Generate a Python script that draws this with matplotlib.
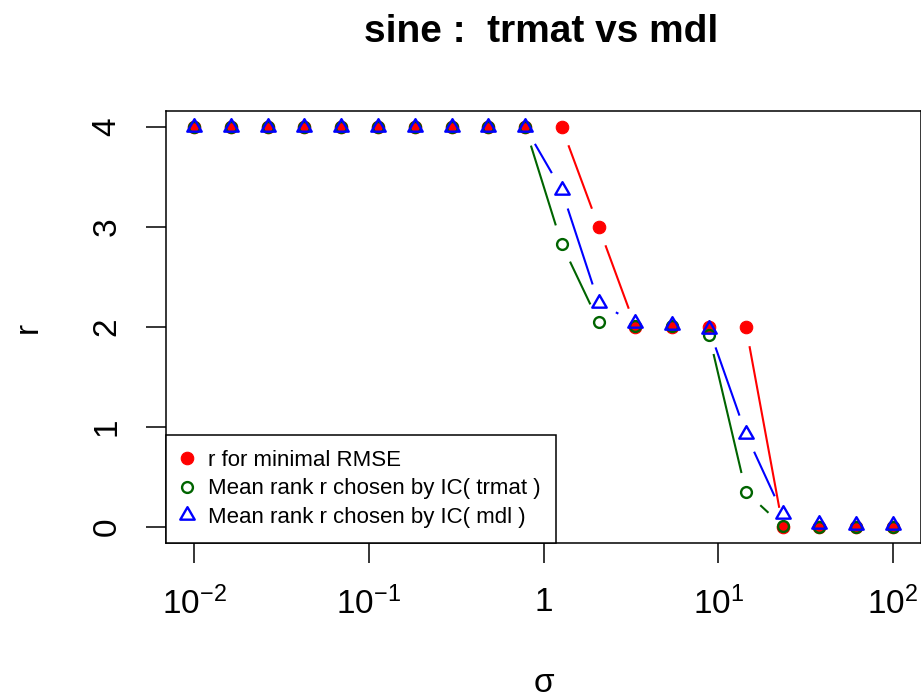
import numpy as np
import matplotlib
matplotlib.use("Agg")
import matplotlib.pyplot as plt
from matplotlib.lines import Line2D
from matplotlib.path import Path

plt.rcParams['font.family'] = ['Liberation Sans', 'DejaVu Sans']
plt.rcParams['mathtext.fontset'] = 'custom'
plt.rcParams['mathtext.rm'] = 'Liberation Sans'
plt.rcParams['mathtext.it'] = 'Liberation Sans:italic'
plt.rcParams['mathtext.bf'] = 'Liberation Sans:bold'

# ---- data ----
sigma = [0.01, 0.0162, 0.0264, 0.0428, 0.0695, 0.113, 0.183, 0.298, 0.483, 0.785,
         1.27, 2.07, 3.36, 5.46, 8.86, 14.4, 23.4, 37.9, 61.6, 100.0]
r_min_rmse = [4, 4, 4, 4, 4, 4, 4, 4, 4, 4,
              4, 3, 2, 2, 2, 2, 0, 0, 0, 0]
r_trmat = [4, 4, 4, 4, 4, 4, 4, 4, 4, 4,
           2.83, 2.05, 2.01, 2.01, 1.92, 0.35, 0.01, 0.0, 0.0, 0.0]
r_mdl = [4, 4, 4, 4, 4, 4, 4, 4, 4, 4,
         3.37, 2.24, 2.04, 2.02, 1.98, 0.93, 0.13, 0.03, 0.02, 0.02]
labels = ["r for minimal RMSE",
          "Mean rank r chosen by IC( trmat )",
          "Mean rank r chosen by IC( mdl )"]
xticks = [0.01, 0.1, 1, 10, 100]
xticklabels = [r"$10^{-2}$", r"$10^{-1}$", "1", r"$10^{1}$", r"$10^{2}$"]
yticks = [0, 1, 2, 3, 4]

RED, GREEN, BLUE = "#FF0000", "#006400", "#0000FF"

tri = Path([(0, 1), (-0.866, -0.5), (0.866, -0.5), (0, 1)],
           [Path.MOVETO, Path.LINETO, Path.LINETO, Path.CLOSEPOLY])

W, H, DPI = 921, 700, 100
fig = plt.figure(figsize=(W / DPI, H / DPI), dpi=DPI)
ax = fig.add_axes([166 / W, 1 - 543 / H, (921 - 166) / W, (543 - 111) / H])
ax.set_xscale('log')
ax.set_xlim(10 ** -2.16, 10 ** 2.16)
ax.set_ylim(-0.16, 4.16)

GAP = 19.5  # pixels, R type="b" gap


def b_lines(x, y, color):
    pts = ax.transData.transform(np.column_stack([x, y]))
    inv = ax.transData.inverted()
    for i in range(len(pts) - 1):
        p0, p1 = pts[i], pts[i + 1]
        d = p1 - p0
        L = np.hypot(*d)
        if L <= 2 * GAP:
            continue
        u = d / L
        a = inv.transform(p0 + u * GAP)
        b = inv.transform(p1 - u * GAP)
        ax.plot([a[0], b[0]], [a[1], b[1]], color=color, lw=1.5,
                solid_capstyle='butt', zorder=2)


b_lines(sigma, r_min_rmse, RED)
b_lines(sigma, r_trmat, GREEN)
b_lines(sigma, r_mdl, BLUE)

MS_R, MS_G, MS_B = 9.0, 7.8, 12.0
ax.plot(sigma, r_min_rmse, ls='none', marker='o', ms=MS_R, mfc=RED, mec=RED,
        mew=0.8, zorder=3)
ax.plot(sigma, r_trmat, ls='none', marker='o', ms=MS_G, mfc='none', mec=GREEN,
        mew=1.7, zorder=4)
ax.plot(sigma, r_mdl, ls='none', marker=tri, ms=MS_B, mfc='none', mec=BLUE,
        mew=1.7, zorder=5)

ax.minorticks_off()
ax.set_xticks(xticks)
ax.set_xticklabels(xticklabels)
ax.set_yticks(yticks)
ax.set_yticklabels([str(v) for v in yticks], rotation=90, va='center')
ax.tick_params(axis='both', length=14.4, width=1.1, labelsize=24, color='black')
ax.tick_params(axis='x', pad=17)
ax.tick_params(axis='y', pad=17)
for s in ax.spines.values():
    s.set_linewidth(1.1)

ax.set_xlabel("σ", fontsize=24)
ax.xaxis.set_label_coords(0.5, (543 - 692) / (543 - 111))
ax.xaxis.label.set_va('baseline')
ax.set_ylabel("r", fontsize=24)
ax.yaxis.set_label_coords((28 - 166) / (921 - 166), 0.5)
ax.yaxis.label.set_va('center')

fig.text(541.5 / W, 1 - 32 / H, "sine :  trmat vs mdl", ha='center', va='center',
         fontsize=28, fontweight='bold')

handles = [
    Line2D([], [], ls='none', marker='o', ms=MS_R, mfc=RED, mec=RED, mew=0.8),
    Line2D([], [], ls='none', marker='o', ms=MS_G, mfc='none', mec=GREEN, mew=1.7),
    Line2D([], [], ls='none', marker=tri, ms=MS_B, mfc='none', mec=BLUE, mew=1.7),
]
leg = ax.legend(handles, labels, loc='lower left', bbox_to_anchor=(0, 0),
                borderaxespad=0, fontsize=16, frameon=True, fancybox=False,
                framealpha=1, edgecolor='black', borderpad=0.68,
                handlelength=0.5, handletextpad=0.7, labelspacing=0.34)
leg.get_frame().set_linewidth(1.1)
leg.set_zorder(10)

fig.savefig("out.png", dpi=DPI)
